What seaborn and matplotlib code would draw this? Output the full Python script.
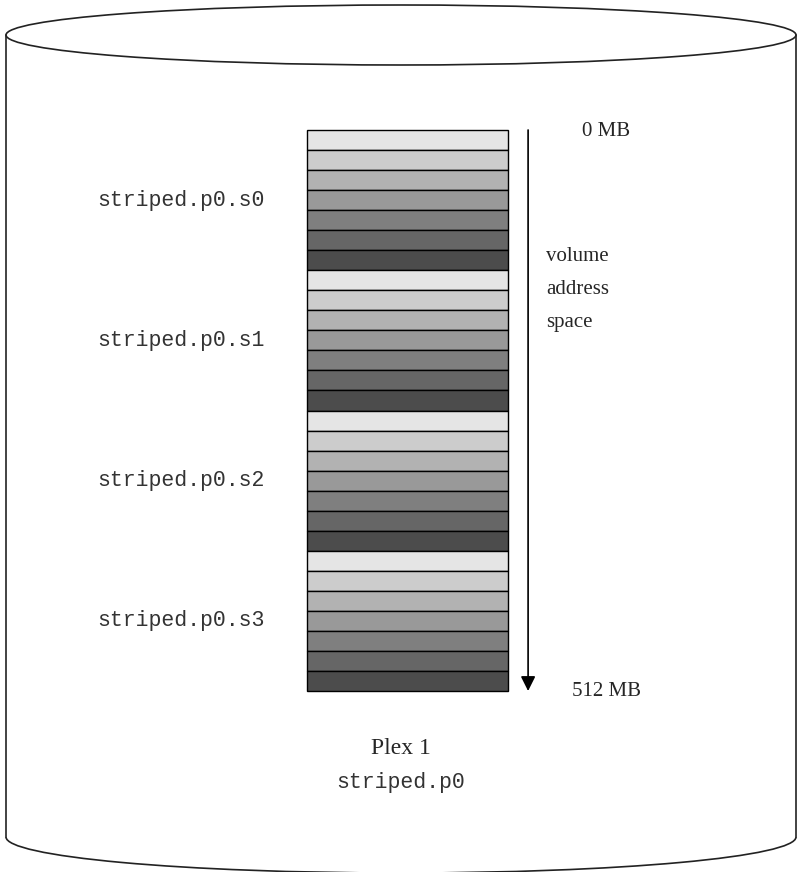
import numpy as np
import pandas as pd
import matplotlib
matplotlib.use("Agg")
import matplotlib.pyplot as plt
import matplotlib.transforms as mtransforms
from matplotlib.patches import Ellipse, Arc
import seaborn as sns

# data
subdisks = ["striped.p0.s0", "striped.p0.s1", "striped.p0.s2", "striped.p0.s3"]
stripe_shades = ["#e5e5e5", "#cccccc", "#b2b2b2", "#999999", "#7f7f7f", "#666666", "#4c4c4c"]
plex_name = "Plex 1"
plex_label = "striped.p0"
start_label = "0 MB"
end_label = "512 MB"
axis_words = ["volume", "address", "space"]

# one row per stripe, stacked from the top of the plex
rows = []
for s, name in enumerate(subdisks):
    for k, shade in enumerate(stripe_shades):
        rows.append({"row": f"r{s * len(stripe_shades) + k:02d}", "subdisk": name,
                     "shade": shade, "width": 1.0})
df = pd.DataFrame(rows)

sns.set_style("white")
serif = ["Liberation Serif", "DejaVu Serif"]
mono = ["Liberation Mono", "DejaVu Sans Mono"]

W, H = 802, 872
fig = plt.figure(figsize=(W / 100, H / 100), dpi=100)

# background axes in pixel units for the cylinder outline
bg = fig.add_axes([0, 0, 1, 1])
bg.set_xlim(0, W)
bg.set_ylim(H, 0)
bg.axis("off")
cx, top_y, bot_y, a, b = 401, 35, 837, 395, 30
bg.add_patch(Ellipse((cx, top_y), 2 * a, 2 * b, fill=False, lw=1.2, ec="#222222"))
bg.plot([cx - a, cx - a], [top_y, bot_y], color="#222222", lw=1.2)
bg.plot([cx + a, cx + a], [top_y, bot_y], color="#222222", lw=1.2)
bg.add_patch(Arc((cx, bot_y), 2 * a, 2 * 36, theta1=0, theta2=180, lw=1.2, ec="#222222"))
bg.text(cx, 748, plex_name, family=serif, fontsize=17, ha="center", va="center")
bg.text(cx, 782, plex_label, family=mono, fontsize=15.5, ha="center", va="center",
        color="#333333")

# the stripe stack
ax = fig.add_axes([307 / W, 1 - 691 / H, 201 / W, 561 / H])
sns.barplot(data=df, x="width", y="row", hue="row", palette=list(df["shade"]),
            orient="h", width=1, dodge=False, edgecolor="black", linewidth=1,
            legend=False, ax=ax)
for p in ax.patches:
    p.set_clip_on(False)
n = len(df)
ax.set_xlim(0, 1)
ax.set_ylim(n - 0.5, -0.5)
ax.axis("off")

blend = mtransforms.blended_transform_factory(ax.transAxes, ax.transData)
per = len(stripe_shades)
for s, name in enumerate(subdisks):
    ax.text(-0.21, s * per + (per - 1) / 2, name, transform=blend, family=mono,
            fontsize=15.5, ha="right", va="center", color="#333333")

# address arrow
ax.annotate("", xy=(1.10, n - 0.5), xytext=(1.10, -0.5), xycoords=blend,
            textcoords=blend, annotation_clip=False,
            arrowprops=dict(arrowstyle="-|>", color="black", lw=1.2,
                            mutation_scale=22, shrinkA=0, shrinkB=0))
ax.text(1.49, -0.45, start_label, transform=blend, family=serif, fontsize=15,
        ha="center", va="center")
ax.text(1.49, n - 0.5, end_label, transform=blend, family=serif, fontsize=15,
        ha="center", va="center")
for i, w in enumerate(axis_words):
    ax.text(1.19, 5.8 + i * 1.65, w, transform=blend, family=serif, fontsize=15,
            ha="left", va="center")

fig.savefig("out.png", dpi=100)
